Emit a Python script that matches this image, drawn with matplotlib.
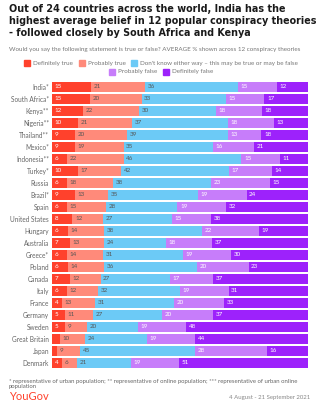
import numpy as np
import matplotlib
matplotlib.use("Agg")
import matplotlib.pyplot as plt
from matplotlib.patches import Rectangle

plt.rcParams['font.family'] = ['Lato', 'DejaVu Sans']

countries = ["India*", "South Africa*", "Kenya**", "Nigeria**", "Thailand**", "Mexico*",
             "Indonesia**", "Turkey*", "Russia", "Brazil*", "Spain", "United States",
             "Hungary", "Australia", "Greece*", "Poland", "Canada", "Italy", "France",
             "Germany", "Sweden", "Great Britain", "Japan", "Denmark"]
definitely_true = [15, 15, 12, 10, 9, 9, 6, 10, 6, 9, 6, 8, 6, 7, 6, 6, 7, 6, 4, 5, 5, 3, 2, 4]
probably_true = [21, 20, 22, 21, 20, 19, 22, 17, 18, 13, 15, 12, 14, 13, 14, 14, 12, 12, 13, 11, 9, 10, 9, 6]
dont_know = [36, 33, 30, 37, 39, 35, 46, 42, 38, 35, 28, 27, 38, 24, 31, 36, 27, 32, 31, 27, 20, 24, 45, 21]
probably_false = [15, 15, 18, 18, 13, 16, 15, 17, 23, 19, 19, 15, 22, 18, 19, 20, 17, 19, 20, 20, 19, 19, 28, 19]
definitely_false = [12, 17, 18, 13, 18, 21, 11, 14, 15, 24, 32, 38, 19, 37, 30, 23, 37, 31, 33, 37, 48, 44, 16, 51]

series = ["Definitely true", "Probably true",
          "Don't know either way – this may be true or may be false",
          "Probably false", "Definitely false"]
colors = ["#ff412c", "#ff8a7a", "#6ccaf6", "#c77dfa", "#9d22fb"]
label_colors = ["white", "#555555", "#555555", "white", "white"]

W, H = 326, 407
fig = plt.figure(figsize=(W / 100, H / 100), dpi=100)
fig.patch.set_facecolor("white")
renderer = fig.canvas.get_renderer()

def fx(px):
    return px / W

def fy(py):
    return 1 - py / H

# title and subtitle
fig.text(fx(9), fy(4), "Out of 24 countries across the world, India has the\n"
         "highest average belief in 12 popular conspiracy theories\n"
         "- followed closely by South Africa and Kenya",
         ha="left", va="top", fontsize=6.9, fontweight="bold", color="#1a1a1a",
         family="DejaVu Sans", linespacing=1.25)
fig.text(fx(9), fy(50), "Would you say the following statement is true or false? AVERAGE % shown across 12 conspiracy theories",
         ha="left", va="center", fontsize=4.5, color="#777777")

# legend, two centred rows
LEG_FS = 4.5

def legend_row(items, y):
    widths = []
    for i in items:
        t = fig.text(0, 0, series[i], fontsize=LEG_FS)
        widths.append(t.get_window_extent(renderer=renderer).width)
        t.remove()
    sq, gap, sep = 6, 3, 6
    total = sum(sq + gap + w for w in widths) + sep * (len(items) - 1)
    x = (W - total) / 2 - 2
    for i, w in zip(items, widths):
        fig.patches.append(Rectangle((fx(x), fy(y + sq / 2)), fx(sq), sq / H,
                                     transform=fig.transFigure, color=colors[i]))
        fig.text(fx(x + sq + gap), fy(y), series[i], ha="left", va="center",
                 fontsize=LEG_FS, color="#777777")
        x += sq + gap + w + sep

legend_row([0, 1, 2], 63)
legend_row([3, 4], 71.5)

# bars
ax = fig.add_axes([fx(52), fy(369), fx(256), 288 / H])
data = np.array([definitely_true, probably_true, dont_know, probably_false, definitely_false], dtype=float)
shares = data / data.sum(axis=0) * 100
y = np.arange(len(countries))
left = np.zeros(len(countries))
for k in range(5):
    ax.barh(y, shares[k], left=left, height=0.83, color=colors[k], edgecolor="none")
    for j in range(len(countries)):
        if data[k, j] >= 4:
            ax.text(left[j] + 1.0, y[j], f"{int(data[k, j])}", ha="left", va="center",
                    fontsize=4.5, color=label_colors[k])
    left += shares[k]

ax.set_xlim(0, 100)
ax.set_ylim(len(countries) - 0.5, -0.5)
ax.set_yticks(y)
ax.set_yticklabels(countries, fontsize=4.7, color="#666666")
ax.tick_params(axis="y", length=0, pad=2)
ax.set_xticks([])
for s in ax.spines.values():
    s.set_visible(False)

# footer
fig.text(fx(9), fy(384), "* representative of urban population; ** representative of online population; *** representative of urban online\npopulation",
         ha="left", va="center", fontsize=4.3, color="#666666", linespacing=1.05)
fig.text(fx(9), fy(397), "YouGov", ha="left", va="center", fontsize=8,
         color="#ff412c")
fig.text(fx(310), fy(397), "4 August - 21 September 2021", ha="right", va="center",
         fontsize=4.3, color="#888888")

fig.savefig("out.png", dpi=100)
